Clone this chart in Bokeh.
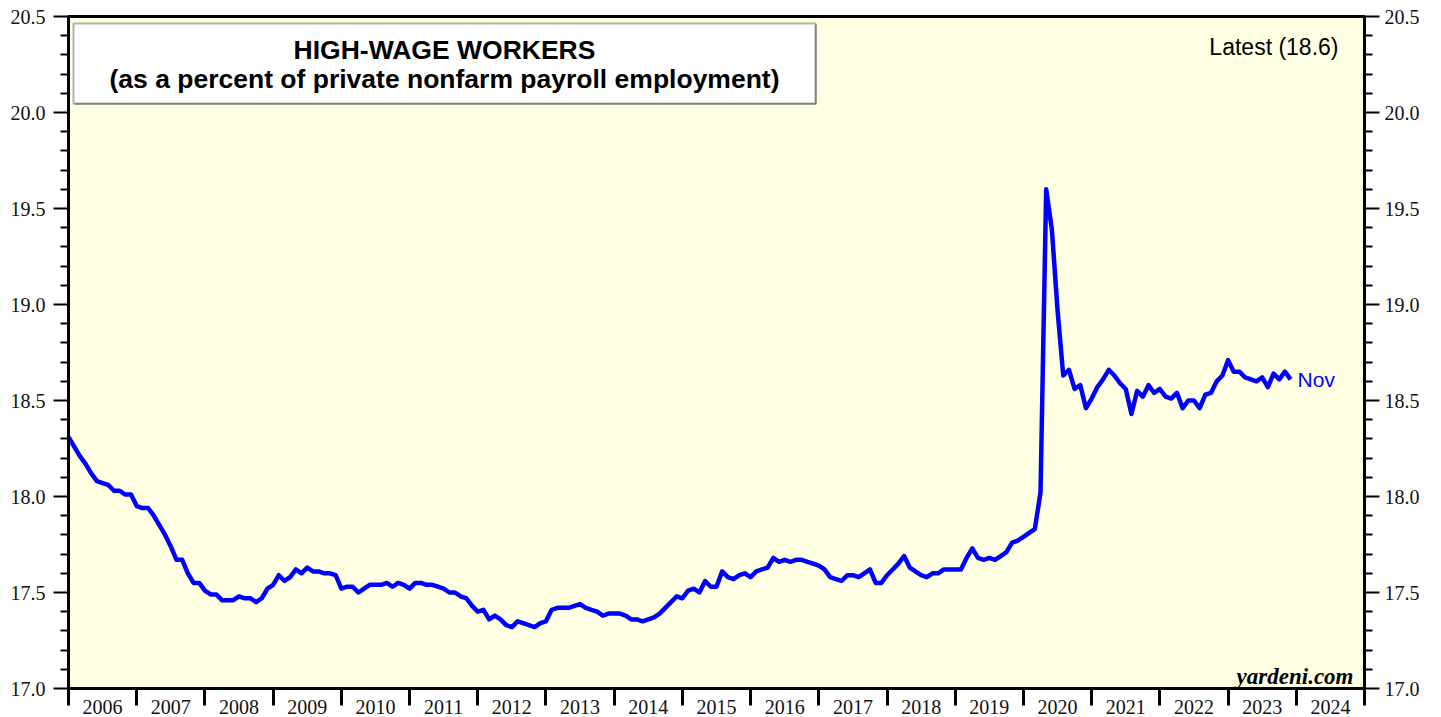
from bokeh.plotting import figure
from bokeh.models import (Range1d, FixedTicker, LinearAxis, Label, BoxAnnotation,
                          ColumnDataSource, NumeralTickFormatter)
from bokeh.embed import file_html
from bokeh.resources import INLINE

# ---- data -------------------------------------------------------------
# monthly, first value = Dec 2005, last value = Nov 2023
first_year, first_month = 2005, 12
high_wage_share = [
    18.31,
    # 2006
    18.26, 18.21, 18.17, 18.12, 18.08, 18.07, 18.06, 18.03, 18.03, 18.01, 18.01, 17.95,
    # 2007
    17.94, 17.94, 17.90, 17.85, 17.80, 17.74, 17.67, 17.67, 17.60, 17.55, 17.55, 17.51,
    # 2008
    17.49, 17.49, 17.46, 17.46, 17.46, 17.48, 17.47, 17.47, 17.45, 17.47, 17.52, 17.54,
    # 2009
    17.59, 17.56, 17.58, 17.62, 17.60, 17.63, 17.61, 17.61, 17.60, 17.60, 17.59, 17.52,
    # 2010
    17.53, 17.53, 17.50, 17.52, 17.54, 17.54, 17.54, 17.55, 17.53, 17.55, 17.54, 17.52,
    # 2011
    17.55, 17.55, 17.54, 17.54, 17.53, 17.52, 17.50, 17.50, 17.48, 17.47, 17.43, 17.40,
    # 2012
    17.41, 17.36, 17.38, 17.36, 17.33, 17.32, 17.35, 17.34, 17.33, 17.32, 17.34, 17.35,
    # 2013
    17.41, 17.42, 17.42, 17.42, 17.43, 17.44, 17.42, 17.41, 17.40, 17.38, 17.39, 17.39,
    # 2014
    17.39, 17.38, 17.36, 17.36, 17.35, 17.36, 17.37, 17.39, 17.42, 17.45, 17.48, 17.47,
    # 2015
    17.51, 17.52, 17.50, 17.56, 17.53, 17.53, 17.61, 17.58, 17.57, 17.59, 17.60, 17.58,
    # 2016
    17.61, 17.62, 17.63, 17.68, 17.66, 17.67, 17.66, 17.67, 17.67, 17.66, 17.65, 17.64,
    # 2017
    17.62, 17.58, 17.57, 17.56, 17.59, 17.59, 17.58, 17.60, 17.62, 17.55, 17.55, 17.59,
    # 2018
    17.62, 17.65, 17.69, 17.63, 17.61, 17.59, 17.58, 17.60, 17.60, 17.62, 17.62, 17.62,
    # 2019
    17.62, 17.68, 17.73, 17.68, 17.67, 17.68, 17.67, 17.69, 17.71, 17.76, 17.77, 17.79,
    # 2020
    17.81, 17.83, 18.02, 19.60, 19.39, 18.97, 18.63, 18.66, 18.56, 18.58, 18.46, 18.51,
    # 2021
    18.57, 18.61, 18.66, 18.63, 18.59, 18.56, 18.43, 18.55, 18.52, 18.58, 18.54, 18.56,
    # 2022
    18.52, 18.51, 18.54, 18.46, 18.50, 18.50, 18.46, 18.53, 18.54, 18.60, 18.63, 18.71,
    # 2023
    18.65, 18.65, 18.62, 18.61, 18.60, 18.62, 18.57, 18.64, 18.61, 18.65, 18.61,
]
year_labels = [str(y) for y in range(2006, 2025)]
y_major = [17.0, 17.5, 18.0, 18.5, 19.0, 19.5, 20.0, 20.5]
title_lines = ["HIGH-WAGE WORKERS", "(as a percent of private nonfarm payroll employment)"]
latest_text = "Latest (18.6)"
last_month_label = "Nov"
source_text = "yardeni.com"

# ---- derived x positions (plotted at end of each month) ----------------
xs = [first_year + (first_month + i) / 12.0 for i in range(len(high_wage_share))]
src = ColumnDataSource(dict(x=xs, y=high_wage_share))

X0, X1, Y0, Y1 = 2006, 2025, 17.0, 20.5
FRAME_W, FRAME_H = 1296, 672
PXX = FRAME_W / (X1 - X0)   # px per year
PXY = FRAME_H / (Y1 - Y0)   # px per unit

def dx(px):
    return X0 + px / PXX

def dy(px):
    return Y1 - px / PXY

p = figure(width=1430, height=716,
           x_range=Range1d(X0, X1), y_range=Range1d(Y0, Y1),
           output_backend="svg", toolbar_location=None,
           min_border_left=68, min_border_right=66,
           min_border_top=16, min_border_bottom=28)

p.background_fill_color = "#FFFFE4"
p.border_fill_color = "white"
p.outline_line_color = "black"
p.outline_line_width = 3
p.xgrid.visible = False
p.ygrid.visible = False

serif = "Liberation Serif"
sans = "Liberation Sans"

# bottom axis: year boundaries as (minor) ticks, labels at mid-year
xax = p.xaxis[0]
centers = [y + 0.5 for y in range(2006, 2025)]
xax.ticker = FixedTicker(ticks=centers, minor_ticks=list(range(2006, 2026)))
xax.major_label_overrides = {c: lab for c, lab in zip(centers, year_labels)}
xax.major_tick_out = 0
xax.major_tick_in = 0
xax.minor_tick_out = 17
xax.minor_tick_in = 0
xax.minor_tick_line_width = 3
xax.minor_tick_line_color = "black"
xax.axis_line_width = 3
xax.major_label_standoff = -6
xax.major_label_text_font = serif
xax.major_label_text_font_size = "20px"
xax.major_label_text_color = "#111111"

minor_y = [round(17.0 + 0.1 * k, 1) for k in range(36)]
minor_y = [v for v in minor_y if v not in y_major]

def style_y(ax, standoff):
    ax.ticker = FixedTicker(ticks=y_major, minor_ticks=minor_y)
    ax.formatter = NumeralTickFormatter(format="0.0")
    ax.major_tick_out = 15
    ax.major_tick_in = 0
    ax.minor_tick_out = 8
    ax.minor_tick_in = 0
    ax.major_tick_line_width = 2
    ax.minor_tick_line_width = 2
    ax.axis_line_width = 3
    ax.major_label_standoff = standoff
    ax.major_label_text_font = serif
    ax.major_label_text_font_size = "20px"
    ax.major_label_text_color = "#111111"

yl = p.yaxis[0]
style_y(yl, 8)
yr = LinearAxis()
style_y(yr, 5)
p.add_layout(yr, "right")

# title box with thin shadow
p.add_layout(BoxAnnotation(left=dx(6), right=dx(748), top=dy(8), bottom=dy(88),
                           fill_color="#777777", fill_alpha=1.0, line_color=None))
p.add_layout(BoxAnnotation(left=dx(5), right=dx(747), top=dy(7), bottom=dy(87),
                           fill_color="white", fill_alpha=1.0,
                           line_color="black", line_width=2))
cx = dx(376)
p.add_layout(Label(x=cx, y=dy(33), text=title_lines[0], text_align="center",
                   text_baseline="middle", text_font=sans, text_font_style="bold",
                   text_font_size="26.5px", text_color="black"))
p.add_layout(Label(x=cx, y=dy(62), text=title_lines[1], text_align="center",
                   text_baseline="middle", text_font=sans, text_font_style="bold",
                   text_font_size="26.5px", text_color="black"))

p.add_layout(Label(x=dx(1270), y=dy(30), text=latest_text, text_align="right",
                   text_baseline="middle", text_font=sans,
                   text_font_size="23px", text_color="black"))

p.line("x", "y", source=src, line_color="#0000FF", line_width=4.5, line_join="round")

p.add_layout(Label(x=xs[-1] + 7 / PXX, y=high_wage_share[-1], text=last_month_label,
                   text_align="left", text_baseline="middle", text_font=sans,
                   text_font_size="21px", text_color="#0000FF"))

p.add_layout(Label(x=dx(1285), y=Y0 + 12 / PXY, text=source_text, text_align="right",
                   text_baseline="alphabetic", text_font=serif,
                   text_font_style="bold italic", text_font_size="23px",
                   text_color="black"))

open("out.html", "w").write(file_html(p, INLINE))
